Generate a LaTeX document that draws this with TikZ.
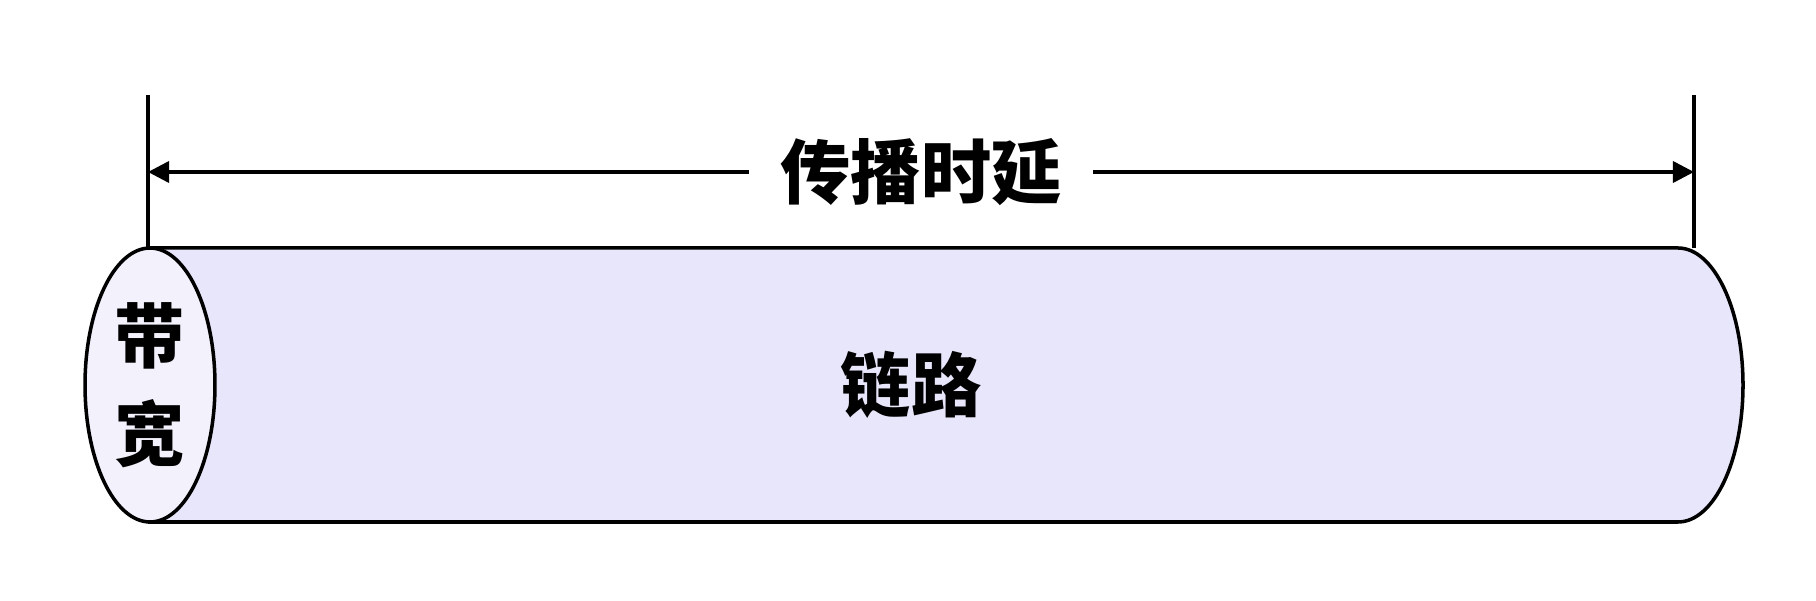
\documentclass[tikz,border=0pt]{standalone}
\usepackage{fontspec}
\newfontfamily\cjk{Noto Sans CJK SC}
\usetikzlibrary{arrows.meta,shapes.geometric}

\definecolor{linkfill}{RGB}{232,230,250}
\definecolor{facefill}{RGB}{242,241,252}

\begin{document}
\begin{tikzpicture}[
    x=0.02cm, y=0.02cm, % 1 unit = 1 px of the reference
    line width=2pt,
    label/.style={font=\cjk\bfseries\fontsize{40}{48}\selectfont, inner sep=0pt},
    face/.style={ellipse, draw, fill=facefill, minimum width=2.6cm, minimum height=5.48cm, inner sep=0pt},
    arrow/.style={-{Triangle[length=12pt,width=12pt]}}
]
\useasboundingbox (0,0) rectangle (1816,601);

% link body
\draw[fill=linkfill] (150,353) -- (1678,353)
    arc[start angle=90, end angle=-90, x radius=65, y radius=137]
    -- (150,79) -- cycle;
\node[face] (bw) at (150,216) {};
\node[label, align=center] (bwtext) at (150,216) {带\\[8pt]宽};
\node[label] (link) at (911,216) {链路};

% limits of the delay
\coordinate (ltop) at (148,506);
\coordinate (lbot) at (148,353);
\coordinate (rtop) at (1694,506);
\coordinate (rbot) at (1694,353);
\draw (ltop) -- (lbot);
\draw (rtop) -- (rbot);

\node[label] (delay) at (921,429) {传播时延};
\draw[arrow] (delay.west) ++(-30,0) -- (ltop |- delay);
\draw[arrow] (delay.east) ++(30,0) -- (rtop |- delay);

\end{tikzpicture}
\end{document}
